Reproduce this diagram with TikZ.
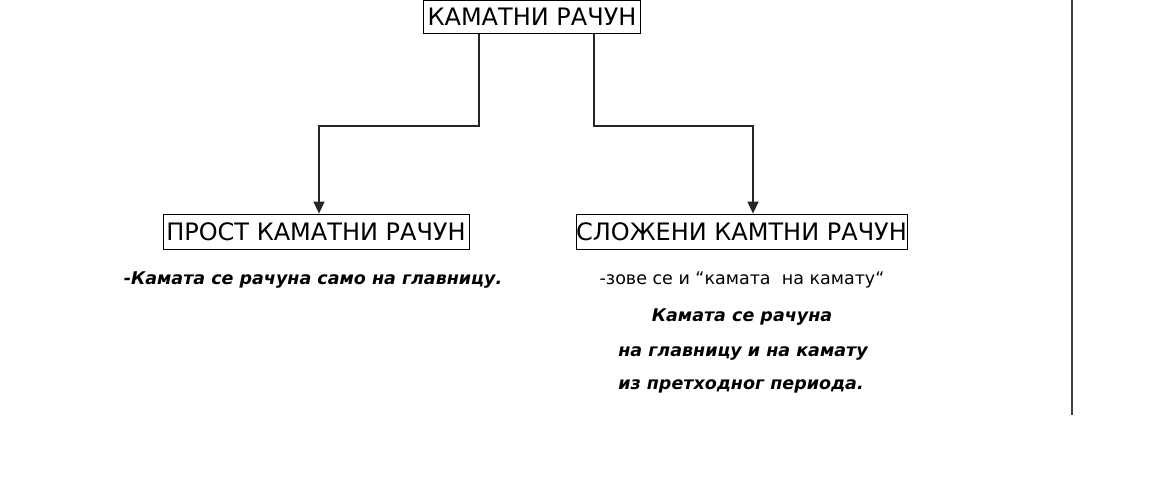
\documentclass[tikz,border=0pt]{standalone}
\usepackage{fontspec}
\setmainfont{DejaVu Sans}
\usetikzlibrary{arrows.meta}
\tikzset{
  titlebox/.style={draw=black, line width=0.8pt, inner sep=0pt, font=\fontsize{24}{28}\selectfont},
  conn/.style={draw=black!85, line width=1.4pt},
  arr/.style={conn, -{Triangle[length=12pt,width=11pt]}},
  bodyit/.style={anchor=base, inner sep=0pt, font=\fontsize{17.5}{21}\selectfont\bfseries\itshape},
  bodyrm/.style={anchor=base, inner sep=0pt, font=\fontsize{17.5}{21}\selectfont},
}
\begin{document}
\begin{tikzpicture}[x=1pt,y=-1pt]
\useasboundingbox (0,0) rectangle (1167,486);
\node[titlebox, minimum width=217pt, minimum height=33pt] (top) at (532,17) {КАМАТНИ РАЧУН};
\node[titlebox, minimum width=306pt, minimum height=35pt] (left) at (316,231.5) {ПРОСТ КАМАТНИ РАЧУН};
\node[titlebox, minimum width=331pt, minimum height=35pt] (right) at (741.5,231.5) {СЛОЖЕНИ КАМТНИ РАЧУН};
\coordinate (lbend) at (479,126);
\coordinate (rbend) at (594,126);
\draw[arr] (top.south -| lbend) -- (lbend) -| ([xshift=3pt]left.north);
\draw[arr] (top.south -| rbend) -- (rbend) -| ([xshift=11.5pt]right.north);
\node[bodyit] (t1) at (313,284) {-Камата се рачуна само на главницу.};
\node[bodyrm] (t2) at (742,284) {-зове се и “камата\ \ на камату“};
\node[bodyit] (t3) at (742,321) {Камата се рачуна};
\node[bodyit] (t4) at (743,356) {на главницу и на камату};
\node[bodyit] (t5) at (741,389) {из претходног периода.};
\coordinate (vtop) at (1072,0);
\coordinate (vbot) at (1072,415);
\draw[draw=black!75, line width=1.5pt] (vtop) -- (vbot);
\end{tikzpicture}
\end{document}
